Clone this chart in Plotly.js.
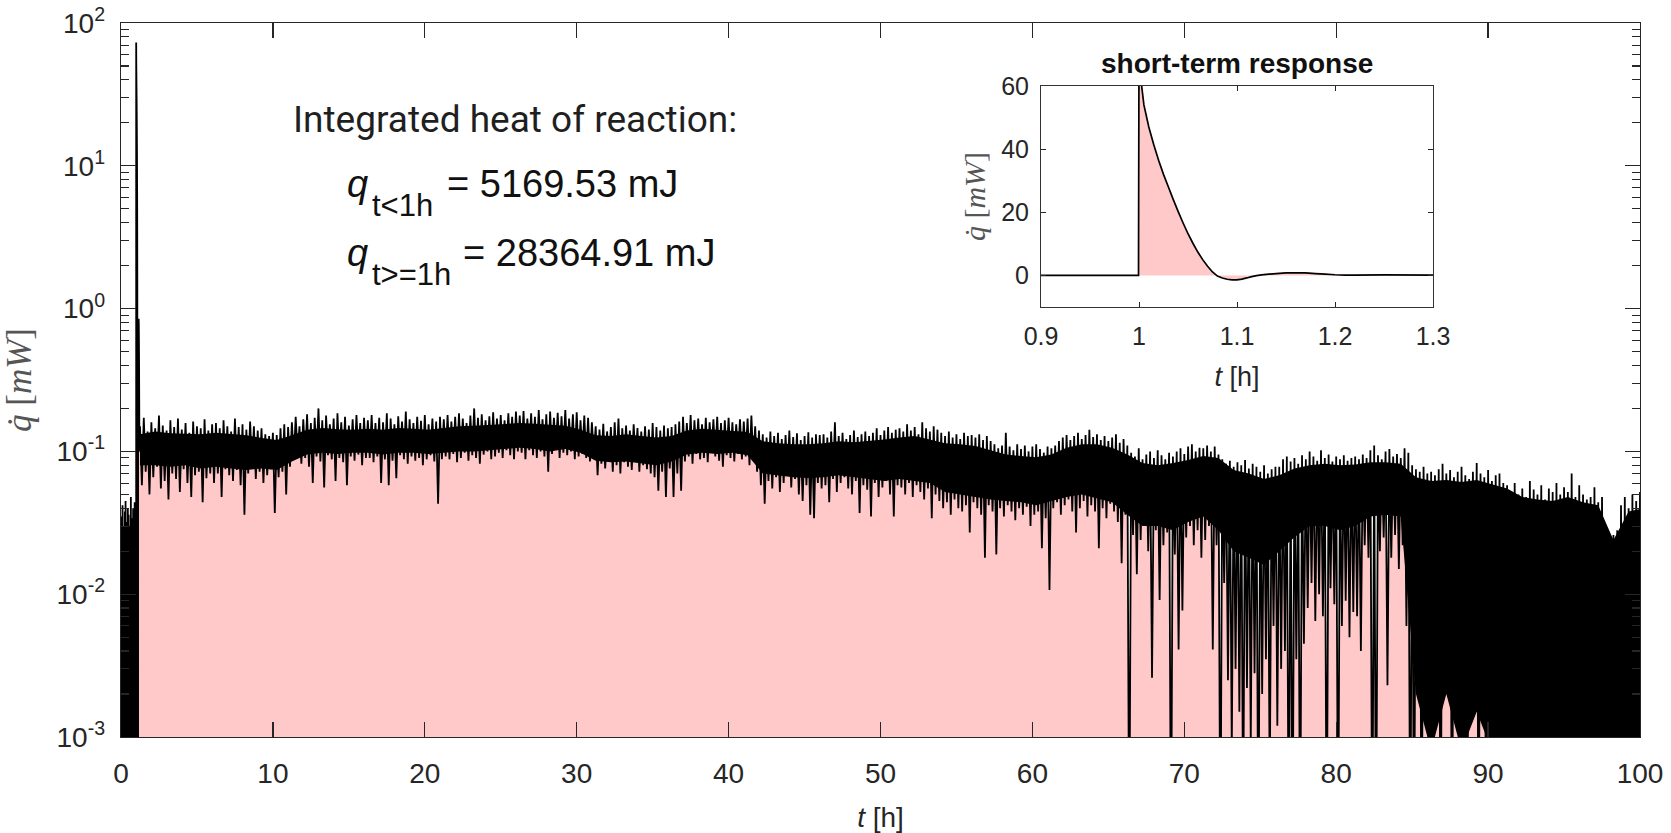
<!DOCTYPE html>
<html>
<head>
<meta charset="utf-8">
<script src="https://cdn.plot.ly/plotly-3.0.1.min.js"></script>
<style>html,body{margin:0;padding:0;background:#fff;}#chart{width:1671px;height:833px;}</style>
</head>
<body>
<div id="chart"></div>
<script>
// ---------------- DATA ----------------
// pre-injection baseline noise, t = 0 .. 1 h (peaks at preStart+i*preStep, dips half a step later)
const preStart = 0, preStep = 0.05;
const prePeak = [.035,.028,.042,.030,.025,.038,.045,.032,.027,.040,.036,.022,.030,.048,.034,.026,.040,.031,.044,.038];
const preDip  = [.0001,.003,.0001,.0001,.006,.0001,.002,.0001,.0001,.004,.0001,.0001,.008,.0001,.0001,.002,.0001,.005,.0001,.0001];

// short-term response around the injection (mW)
const spikeT = [0.9995,1.0,1.0027,1.005,1.01,1.015,1.02,1.025,1.03,1.035,1.04,1.045,1.05,1.055,1.06,1.065,1.07,1.075,1.08,1.085,1.09,1.095,1.1,1.105,1.11,1.115,1.12,1.125,1.13,1.14,1.15,1.16,1.17,1.18,1.19,1.2,1.21,1.22];
const spikeQ = [0.03,73,60,54,47,41.5,36.5,32,28,24,20.2,16.6,13.2,10.2,7.4,5,2.9,1.1,-0.2,-0.8,-1.2,-1.4,-1.4,-1.15,-0.8,-0.4,-0.05,0.15,0.35,0.6,0.8,0.85,0.8,0.6,0.4,0.22,0.12,0.1];

// long-term noisy signal: peaks at noiseStart+i*noiseStep, dips half a step later (mW)
const noiseStart = 1.25, noiseStep = 0.25;
const qPeak = [
 .150,.172,.138,.160,.145,.178,.152,.140,.165,.148,.170,.142,.158,.135,.162,.150,.145,.168,.140,.155,
 .158,.145,.165,.150,.138,.170,.148,.155,.142,.162,.150,.140,.145,.132,.128,.135,.130,.145,.155,.148,
 .160,.175,.150,.168,.182,.158,.172,.200,.165,.178,.155,.170,.185,.160,.175,.152,.168,.180,.158,.172,
 .165,.180,.158,.172,.160,.185,.170,.155,.176,.162,.190,.168,.158,.175,.164,.180,.155,.170,.162,.175,
 .168,.180,.162,.175,.185,.170,.158,.178,.200,.172,.182,.165,.176,.188,.170,.180,.165,.185,.175,.190,
 .178,.192,.170,.185,.175,.195,.168,.182,.190,.172,.186,.176,.195,.170,.182,.188,.165,.178,.172,.160,
 .150,.142,.156,.138,.148,.160,.170,.145,.152,.140,.155,.146,.138,.150,.142,.158,.148,.140,.152,.145,
 .148,.155,.162,.175,.158,.180,.165,.170,.155,.172,.160,.168,.175,.158,.165,.172,.160,.155,.168,.162,
 .170,.178,.150,.140,.132,.125,.138,.128,.135,.122,.130,.140,.126,.134,.120,.128,.136,.125,.132,.130,
 .132,.125,.138,.160,.128,.135,.122,.130,.140,.126,.132,.138,.128,.135,.145,.130,.140,.148,.135,.142,
 .145,.138,.155,.140,.148,.132,.160,.145,.138,.150,.142,.135,.128,.138,.125,.132,.122,.135,.128,.130,
 .125,.132,.120,.128,.118,.112,.105,.110,.135,.108,.102,.112,.104,.110,.100,.108,.112,.104,.098,.108,
 .105,.110,.118,.125,.130,.120,.128,.135,.122,.130,.142,.126,.132,.120,.128,.118,.125,.132,.115,.122,
 .110,.098,.092,.105,.088,.095,.100,.090,.102,.094,.088,.098,.092,.100,.105,.096,.108,.112,.100,.106,
 .105,.110,.100,.108,.095,.088,.082,.086,.078,.084,.080,.087,.076,.082,.078,.072,.080,.070,.075,.078,
 .078,.088,.092,.085,.090,.082,.094,.088,.100,.092,.086,.102,.090,.095,.085,.092,.088,.094,.086,.090,
 .092,.088,.095,.090,.102,.110,.094,.088,.100,.104,.092,.096,.090,.105,.098,.080,.075,.072,.078,.070,
 .072,.068,.075,.082,.070,.074,.066,.072,.078,.068,.064,.072,.083,.070,.066,.074,.062,.068,.070,.060,
 .058,.052,.060,.050,.055,.048,.062,.054,.050,.058,.046,.055,.052,.060,.050,.056,.052,.070,.048,.058,
 .050,.046,.048,.056,.044,.048,.030,.022,.026,.028,.042,.048,.040,.050,.045,.052
];
const qDip = [
 .058,.072,.050,.066,.078,.055,.062,.046,.070,.064,.052,.075,.060,.048,.068,.072,.044,.065,.070,.060,
 .070,.048,.075,.068,.062,.074,.058,.036,.070,.078,.064,.072,.060,.068,.075,.037,.066,.072,.050,.078,
 .088,.095,.082,.090,.078,.060,.092,.085,.056,.094,.088,.062,.090,.084,.058,.092,.086,.095,.080,.090,
 .090,.084,.092,.060,.088,.058,.086,.065,.094,.088,.082,.092,.086,.090,.080,.088,.094,.085,.043,.088,
 .092,.088,.096,.084,.090,.098,.086,.094,.090,.082,.095,.100,.088,.092,.098,.090,.102,.094,.088,.100,
 .098,.088,.102,.094,.090,.100,.092,.072,.096,.104,.090,.098,.094,.100,.088,.092,.096,.090,.085,.094,
 .068,.082,.076,.085,.072,.080,.070,.084,.078,.074,.086,.072,.080,.075,.070,.066,.053,.072,.048,.076,
 .048,.070,.053,.085,.092,.082,.096,.088,.090,.084,.098,.092,.086,.078,.094,.090,.085,.096,.088,.092,
 .080,.086,.072,.058,.043,.062,.055,.066,.052,.060,.068,.056,.064,.050,.045,.058,.036,.034,.060,.055,
 .058,.044,.064,.052,.060,.066,.055,.050,.062,.037,.058,.054,.035,.060,.048,.056,.062,.050,.035,.058,
 .056,.050,.060,.048,.058,.052,.046,.055,.034,.050,.045,.040,.044,.036,.046,.040,.038,.042,.027,.044,
 .040,.036,.018,.042,.038,.019,.040,.035,.042,.038,.033,.040,.036,.041,.030,.036,.038,.021,.034,.0107,
 .040,.044,.036,.042,.046,.038,.027,.040,.045,.035,.042,.038,.021,.040,.034,.043,.038,.032,.0165,.036,
 .0001,.026,.0138,.024,.030,.020,.0026,.028,.0091,.022,.027,.0001,.019,.0041,.0077,.025,.030,.022,.028,.018,
 .024,.030,.0041,.022,.0001,.012,.0025,.0008,.0030,.0015,.0002,.0022,.0009,.0028,.0001,.0020,.0035,.0004,.0060,.0012,
 .0030,.0040,.0001,.0001,.0035,.0001,.0045,.0080,.012,.0065,.010,.0070,.0001,.011,.0085,.0001,.0060,.0090,.0050,.0075,
 .0070,.0040,.022,.018,.0001,.0001,.020,.025,.0023,.018,.026,.015,.022,.0060,.0001,.0001,.0030,.0001,.0080,.0001,
 .0001,.0015,.0001,.0090,.0100,.0001,.0020,.0001,.0060,.0001,.0040,.0050,.0001,.0030,.0001,.0015,.0001,.0010,.0001,.0001,
 .0002,.0001,.0003,.0001,.0002,.0001,.0004,.0001,.0002,.0001,.0003,.0001,.0002,.0001,.0001,.0002,.0001,.0003,.0001,.0002,
 .0001,.0002,.0001,.0003,.0001,.0002,.0001,.0001,.0002,.0001,.0003,.0001,.0002,.0001,.0002,.0001
];

// envelope of the dense (solid black) part of the noise band, at bandStart + i*bandStep (mW)
const bandStart = 1.25, bandStep = 1;
const bandHi = [
 .132,.138,.134,.133,.132,.135,.132,.130,.124,.120,
 .130,.142,.146,.143,.142,.144,.142,.146,.144,.142,
 .146,.150,.151,.153,.156,.158,.156,.153,.151,.142,
 .130,.128,.132,.128,.125,.128,.140,.144,.142,.140,
 .137,.118,.114,.112,.112,.114,.118,.116,.118,.121,
 .125,.128,.121,.114,.112,.109,.102,.095,.093,.091,
 .095,.106,.112,.112,.106,.095,.083,.080,.083,.087,
 .093,.090,.074,.070,.064,.068,.076,.080,.082,.080,
 .081,.084,.084,.082,.066,.062,.063,.061,.063,.059,
 .055,.048,.046,.045,.048,.044,.042,.024,.038,.040
];
const bandLo = [
 .080,.080,.078,.080,.076,.078,.076,.074,.076,.074,
 .085,.095,.098,.096,.098,.098,.095,.098,.098,.096,
 .098,.100,.100,.102,.105,.106,.104,.100,.104,.098,
 .086,.084,.085,.082,.080,.085,.095,.098,.096,.098,
 .094,.070,.068,.066,.065,.066,.068,.066,.064,.062,
 .064,.062,.060,.052,.050,.048,.046,.045,.044,.042,
 .045,.048,.050,.047,.044,.036,.030,.030,.028,.032,
 .035,.028,.020,.018,.016,.020,.025,.030,.030,.028,
 .030,.035,.036,.035,.002,.0008,.002,.0008,.0015,.0008,
 .0008,.0005,.0005,.0005,.0005,.0005,.0005,.0005,.0005,.0005
];

// tick labels
const yTickVals = [0.001, 0.01, 0.1, 1, 10, 100];
const yTickText = ['10<sup>-3</sup>','10<sup>-2</sup>','10<sup>-1</sup>','10<sup>0</sup>','10<sup>1</sup>','10<sup>2</sup>'];
const insetXTickVals = [0.9, 1.0, 1.1, 1.2, 1.3];
const insetXTickText = ['0.9', '1', '1.1', '1.2', '1.3'];
const insetYTickVals = [0, 20, 40, 60];

// annotation texts
const heatTitle = 'Integrated heat of reaction:';
const qBefore = {sub: 't&lt;1h', value: '= 5169.53 mJ'};
const qAfter  = {sub: 't&gt;=1h', value: '= 28364.91 mJ'};

// ---------------- BUILD SERIES ----------------
const r4 = v => Math.round(v * 10000) / 10000;
const mainT = [], mainQ = [];
prePeak.forEach((v, i) => {
  mainT.push(r4(preStart + i * preStep)); mainQ.push(v);
  mainT.push(r4(preStart + i * preStep + preStep / 2)); mainQ.push(preDip[i]);
});
spikeT.forEach((t, i) => { mainT.push(t); mainQ.push(spikeQ[i]); });
qPeak.forEach((v, i) => {
  const t0 = noiseStart + i * noiseStep;
  mainT.push(r4(t0)); mainQ.push(v);
  mainT.push(r4(t0 + noiseStep / 2)); mainQ.push(qDip[i]);
});
const bandT = bandHi.map((_, i) => r4(bandStart + i * bandStep));

// ---------------- LAYOUT GEOMETRY ----------------
const W = 1671, H = 833, ML = 121, MR = 31, MT = 23, MB = 96;
const PW = W - ML - MR, PH = H - MT - MB;
const px = x => (x - ML) / PW;
const py = y => (H - MB - y) / PH;

const PINK = '#FFC9C9';
const AX = '#262626';
const SANS = 'Liberation Sans, Arial, Helvetica, sans-serif';
const SERIF = 'Liberation Serif, DejaVu Serif, serif';

const minorVals = [];
[0.001, 0.01, 0.1, 1, 10].forEach(d => { for (let k = 2; k <= 9; k++) minorVals.push(d * k); });

const traces = [
  { x: mainT, y: mainQ, type: 'scatter', mode: 'lines', fill: 'tozeroy', fillcolor: PINK,
    line: { color: '#000', width: 1.8, simplify: false }, xaxis: 'x', yaxis: 'y', hoverinfo: 'skip' },
  { x: bandT, y: bandLo, type: 'scatter', mode: 'lines', line: { width: 0, color: 'rgba(0,0,0,0)' },
    xaxis: 'x', yaxis: 'y', hoverinfo: 'skip' },
  { x: bandT, y: bandHi, type: 'scatter', mode: 'lines', fill: 'tonexty', fillcolor: '#000',
    line: { width: 0, color: 'rgba(0,0,0,0)' }, xaxis: 'x', yaxis: 'y', hoverinfo: 'skip' },
  { x: mainT, y: mainQ, type: 'scatter', mode: 'lines', fill: 'tozeroy', fillcolor: PINK,
    line: { color: '#000', width: 1.7, simplify: false }, xaxis: 'x2', yaxis: 'y2', hoverinfo: 'skip' }
];

const axCommon = {
  ticks: 'inside', tickcolor: AX, showline: true, linecolor: AX, mirror: 'ticks',
  showgrid: false, zeroline: false
};

const layout = {
  width: W, height: H,
  margin: { l: ML, r: MR, t: MT, b: MB, pad: 0 },
  paper_bgcolor: '#fff', plot_bgcolor: '#fff',
  showlegend: false,
  font: { family: SANS, color: AX },
  xaxis: Object.assign({}, axCommon, {
    domain: [0, 1], anchor: 'y', range: [0, 100], tick0: 0, dtick: 10,
    ticklen: 15, tickwidth: 1.3, linewidth: 1.3,
    tickfont: { size: 28, family: SANS, color: AX }, ticklabelstandoff: 11,
    title: { text: '<i>t</i> [h]', font: { size: 28, family: SANS, color: AX }, standoff: 20 }
  }),
  yaxis: Object.assign({}, axCommon, {
    domain: [0, 1], anchor: 'x', type: 'log', range: [-3, 2],
    tickmode: 'array', tickvals: yTickVals, ticktext: yTickText,
    ticklen: 15, tickwidth: 1.3, linewidth: 1.3,
    minor: { tickmode: 'array', tickvals: minorVals, ticks: 'inside', ticklen: 8, tickcolor: AX, tickwidth: 1.1, showgrid: false },
    tickfont: { size: 28, family: SANS, color: AX }, ticklabelstandoff: 9,
    title: { text: '<i>q&#775;</i> [<i>mW</i>]', font: { size: 35, family: SERIF, color: '#555' }, standoff: 16 }
  }),
  xaxis2: Object.assign({}, axCommon, {
    domain: [px(1041), px(1433)], anchor: 'y2', range: [0.9, 1.3],
    tickmode: 'array', tickvals: insetXTickVals, ticktext: insetXTickText,
    ticklen: 5, tickwidth: 1, linewidth: 1, linecolor: '#333',
    tickfont: { size: 25, family: SANS, color: AX }, ticklabelstandoff: 7,
    title: { text: '<i>t</i> [h]', font: { size: 27, family: SANS, color: AX }, standoff: 18 }
  }),
  yaxis2: Object.assign({}, axCommon, {
    domain: [py(307), py(86)], anchor: 'x2', range: [-10, 60],
    tickmode: 'array', tickvals: insetYTickVals,
    ticklen: 5, tickwidth: 1, linewidth: 1, linecolor: '#333',
    tickfont: { size: 25, family: SANS, color: AX }, ticklabelstandoff: 6,
    title: { text: '<i>q&#775;</i> [<i>mW</i>]', font: { size: 30, family: SERIF, color: '#555' }, standoff: 6 }
  }),
  annotations: [
    { text: heatTitle, xref: 'paper', yref: 'paper', x: px(291), y: py(120), xanchor: 'left', yanchor: 'middle',
      showarrow: false, font: { family: 'Roboto, sans-serif', size: 37, color: '#1f1f1f' } },
    { text: '<i>q</i>', xref: 'paper', yref: 'paper', x: px(345), y: py(184), xanchor: 'left', yanchor: 'middle',
      showarrow: false, font: { family: SANS, size: 38, color: '#111' } },
    { text: qBefore.sub, xref: 'paper', yref: 'paper', x: px(370), y: py(205), xanchor: 'left', yanchor: 'middle',
      showarrow: false, font: { family: SANS, size: 31, color: '#111' } },
    { text: qBefore.value, xref: 'paper', yref: 'paper', x: px(445), y: py(184), xanchor: 'left', yanchor: 'middle',
      showarrow: false, font: { family: SANS, size: 38, color: '#111' } },
    { text: '<i>q</i>', xref: 'paper', yref: 'paper', x: px(345), y: py(253), xanchor: 'left', yanchor: 'middle',
      showarrow: false, font: { family: SANS, size: 38, color: '#111' } },
    { text: qAfter.sub, xref: 'paper', yref: 'paper', x: px(370), y: py(274), xanchor: 'left', yanchor: 'middle',
      showarrow: false, font: { family: SANS, size: 31, color: '#111' } },
    { text: qAfter.value, xref: 'paper', yref: 'paper', x: px(461), y: py(253), xanchor: 'left', yanchor: 'middle',
      showarrow: false, font: { family: SANS, size: 38, color: '#111' } },
    { text: '<b>short-term response</b>', xref: 'paper', yref: 'paper', x: px(1237), y: py(63), xanchor: 'center', yanchor: 'middle',
      showarrow: false, font: { family: SANS, size: 28, color: '#111' } }
  ]
};

Plotly.newPlot('chart', traces, layout, { displayModeBar: false, staticPlot: true });
</script>
</body>
</html>
